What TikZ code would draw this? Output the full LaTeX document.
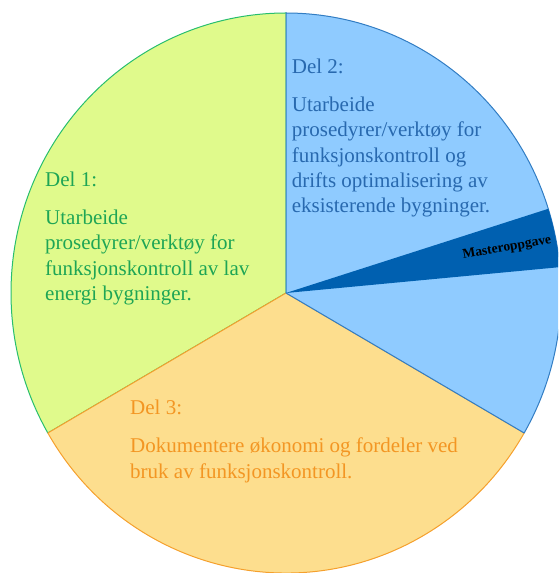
\documentclass[tikz,border=0pt]{standalone}
\usepackage{fontspec}
\setmainfont{Liberation Serif}
\definecolor{grnfill}{RGB}{224,250,140}
\definecolor{grnline}{RGB}{40,190,110}
\definecolor{grntext}{RGB}{30,165,85}
\definecolor{bluefill}{RGB}{143,203,255}
\definecolor{blueline}{RGB}{50,125,195}
\definecolor{bluetext}{RGB}{40,105,175}
\definecolor{darkwedge}{RGB}{0,96,176}
\definecolor{orgfill}{RGB}{253,222,142}
\definecolor{orgline}{RGB}{245,160,45}
\definecolor{orgtext}{RGB}{243,150,35}
\begin{document}
\begin{tikzpicture}[x=1pt,y=1pt,
  slice/.style={line width=1pt, line join=round},
  body/.style={anchor=base west, inner sep=0pt, align=left,
    font=\fontsize{21}{25.2}\selectfont},
  head/.style={anchor=base west, inner sep=0pt,
    font=\fontsize{21}{25.2}\selectfont}]
\useasboundingbox (0,0) rectangle (558,573);
\clip (0,0) rectangle (558,573);
\coordinate (c) at (286,280);
% the three parts of the pie
\filldraw[slice, fill=grnfill, draw=grnline]
  (c) -- +(90:275 and 280) arc[start angle=90, end angle=210, x radius=275, y radius=280] -- cycle;
\filldraw[slice, fill=orgfill, draw=orgline]
  (c) -- +(210:275 and 280) arc[start angle=210, end angle=330, x radius=275, y radius=280] -- cycle;
\filldraw[slice, fill=bluefill, draw=blueline]
  (c) -- +(-30:275 and 280) arc[start angle=-30, end angle=90, x radius=275, y radius=280] -- cycle;
% thesis wedge inside part 2
\fill[darkwedge]
  (c) -- +(5.3:275 and 280) arc[start angle=5.3, end angle=17.5, x radius=275, y radius=280] -- cycle;
% labels (multi-line nodes sit on the baseline of their last line)
\node[head, text=grntext] (d1) at (45,386.3) {Del 1:};
\node[body, text=grntext] (t1) at (45,272.6) {Utarbeide\\prosedyrer/verktøy for\\funksjonskontroll av lav\\energi bygninger.};
\node[head, text=bluetext] (d2) at (291.7,499.7) {Del 2:};
\node[body, text=bluetext] (t2) at (291.7,360.5) {Utarbeide\\prosedyrer/verktøy for\\funksjonskontroll og\\drifts optimalisering av\\eksisterende bygninger.};
\node[head, text=orgtext] (d3) at (130,158) {Del 3:};
\node[body, text=orgtext] (t3) at (130,94.8) {Dokumentere økonomi og fordeler ved\\bruk av funksjonskontroll.};
\node[inner sep=0pt, rotate=10, font=\fontsize{13.6}{15}\selectfont\bfseries] (mo) at (507,325) {Masteroppgave};
\end{tikzpicture}
\end{document}
